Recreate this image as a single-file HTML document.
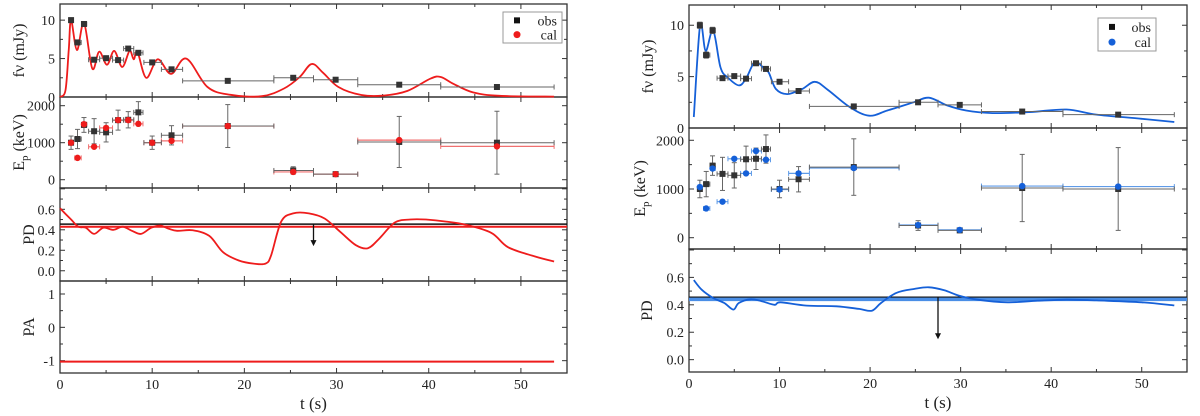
<!DOCTYPE html>
<html><head><meta charset="utf-8"><style>
html,body{margin:0;padding:0;background:#fff;width:1200px;height:416px;overflow:hidden}
svg{display:block}
text{font-family:"Liberation Serif","Noto Serif CJK SC",serif;fill:#222}
</style></head><body>
<svg id="chart" width="1200" height="416" viewBox="0 0 1200 416" xmlns="http://www.w3.org/2000/svg"></svg>
<script>
// ---- data ----
const obsT = [1.2,1.9,2.6,3.7,5.0,6.3,7.4,8.5,10.0,12.1,18.2,25.3,29.9,36.8,47.4];
const obsTlo = [1.0,1.6,2.4,3.1,4.3,5.7,6.9,8.0,9.1,11.0,13.3,23.2,27.5,32.3,41.3];
const obsThi = [1.4,2.3,2.9,4.3,5.7,6.9,8.0,9.0,11.0,13.3,23.2,27.5,32.3,41.3,53.6];
const obsFlux = [10.0,7.1,9.5,4.85,5.05,4.8,6.3,5.75,4.5,3.6,2.1,2.5,2.25,1.6,1.3];
const obsFluxErr = [0.3,0.3,0.3,0.2,0.2,0.2,0.2,0.2,0.2,0.2,0.15,0.15,0.15,0.15,0.15];
const obsEp = [1000,1100,1480,1310,1280,1610,1620,1820,1000,1200,1450,250,150,1020,1000];
const obsEpErr = [180,260,200,340,260,270,220,290,180,260,580,100,40,690,850];
const calEpLeft = [1000,590,1500,890,1400,1610,1610,1510,1000,1050,1450,210,150,1070,900];
const calEpRight = [1040,600,1420,740,1620,1320,1780,1600,990,1320,1430,260,160,1060,1050];
const fluxLeftT = [0,0.6,0.95,1.2,1.84,2.6,3.5,4.25,5.1,5.88,6.75,7.55,8.0,8.4,9.35,10.6,12.05,13.7,16.0,18.5,21.9,24.3,26.0,27.3,28.5,30.2,32.7,35.2,37.7,40.2,41.3,42.7,44.8,47.7,53.6];
const fluxLeftV = [0,0.9,6.2,10,6.1,9.65,3.7,5.9,4.2,6.0,3.9,6.0,4.9,5.9,2.5,4.9,3.0,5.0,1.3,0.28,0.1,1.1,2.6,4.3,3.2,1.3,0.26,0.2,0.8,2.4,2.6,1.7,0.6,0.15,0.05];
const fluxRightT = [0.53,1.23,1.84,2.66,3.48,4.3,5.53,6.35,7.25,8.2,8.8,9.6,10.85,12.5,13.9,15.35,17.8,19.9,21.9,24.8,26.5,28.5,30.6,33.5,37.6,41.7,45,50,53.6];
const fluxRightV = [1.07,10.0,7.5,9.5,5.9,4.9,4.15,4.9,6.4,5.9,5.4,3.8,3.3,3.8,4.5,3.7,2.0,1.2,1.7,2.5,2.95,2.2,1.7,1.45,1.55,1.8,1.3,0.9,0.58];
const pdLeftT = [0,1.2,2.0,2.8,3.7,4.7,5.8,6.8,7.8,8.8,9.9,10.9,11.8,12.7,14.4,16.2,17.7,19.4,21.0,22.3,22.9,24.0,25.3,27,28.7,30.4,32.1,33.4,34.6,36.3,38,39.7,41.9,44,46.8,48.6,51.5,53.6];
const pdLeftV = [0.61,0.5,0.43,0.42,0.36,0.42,0.4,0.43,0.39,0.36,0.42,0.44,0.41,0.39,0.395,0.34,0.18,0.1,0.07,0.07,0.15,0.48,0.56,0.56,0.51,0.38,0.25,0.22,0.31,0.47,0.5,0.5,0.48,0.45,0.37,0.23,0.14,0.09];
const pdRightT = [0.53,1.4,2.66,3.9,4.9,5.5,6.8,8,9.45,10.1,13,16.3,18.8,20.2,21.2,22.9,24.9,26.5,28.2,29.8,31.9,35.2,38.5,41.7,45,50,53.6];
const pdRightV = [0.58,0.51,0.45,0.413,0.365,0.413,0.44,0.427,0.40,0.418,0.394,0.389,0.37,0.357,0.413,0.487,0.516,0.528,0.506,0.467,0.437,0.418,0.43,0.437,0.432,0.418,0.396];
const pdObsLimit = [0.455];
const pdLimitT = [27.5];
const pdCalConstLeft = [0.43];
const pdCalConstRight = [0.44];
const paLeftT = [0,53.6];
const paLeftV = [-1.03,-1.03];
const xTicks = [0,10,20,30,40,50];
const fluxTicks = [0,5,10];
const epTicks = [0,1000,2000];
const pdTicks = [0.0,0.2,0.4,0.6];
const paTicks = [-1,0,1];

// ---- helpers ----
const svg = document.getElementById('chart');
const NS = 'http://www.w3.org/2000/svg';
function el(tag, attrs, parent){const e=document.createElementNS(NS,tag);for(const k in attrs)e.setAttribute(k,attrs[k]);(parent||svg).appendChild(e);return e;}
function linScale(d0,d1,r0,r1){return v=>r0+(v-d0)*(r1-r0)/(d1-d0);}
function smoothPath(xs,ys){
  let d='M'+xs[0].toFixed(1)+','+ys[0].toFixed(1);
  for(let i=0;i<xs.length-1;i++){
    const x0=xs[Math.max(i-1,0)],y0=ys[Math.max(i-1,0)],x1=xs[i],y1=ys[i],x2=xs[i+1],y2=ys[i+1],x3=xs[Math.min(i+2,xs.length-1)],y3=ys[Math.min(i+2,xs.length-1)];
    const c1x=x1+(x2-x0)/6,c1y=y1+(y2-y0)/6,c2x=x2-(x3-x1)/6,c2y=y2-(y3-y1)/6;
    d+=' C'+c1x.toFixed(1)+','+c1y.toFixed(1)+' '+c2x.toFixed(1)+','+c2y.toFixed(1)+' '+x2.toFixed(1)+','+y2.toFixed(1);
  }
  return d;
}

function makeFigure(cfg){
  const g = el('g',{});
  
  
  const X = linScale(0,55,cfg.x0,cfg.x1);
  cfg.panels.forEach((p,pi)=>{
    const Y = linScale(p.ymin,p.ymax,p.bottom,p.top);
    p.Y = Y;
    const pg = el('g',{},g);
    
    
    const frame = el('rect',{x:cfg.x0,y:p.top,width:cfg.x1-cfg.x0,height:p.bottom-p.top,fill:'none',stroke:'#333','stroke-width':1.3},pg);
    
    
    // x ticks
    for(let t=0;t<=55;t+=5){
      const major = t%10===0, len = major?5:3;
      el('line',{x1:X(t),x2:X(t),y1:p.bottom,y2:p.bottom-len,stroke:'#333','stroke-width':1},pg);
      el('line',{x1:X(t),x2:X(t),y1:p.top,y2:p.top+len,stroke:'#333','stroke-width':1},pg);
    }
    // y ticks
    const tk=p.ticks, step=(tk[1]-tk[0])/2;
    for(let v=tk[0]-step*4; v<=p.ymax+1e-9; v+=step){
      if(v<p.ymin-1e-9)continue;
      const k=Math.round((v-tk[0])/step); const major=k%2===0; const len=major?5:3;
      const y=Y(v);
      el('line',{x1:cfg.x0,x2:cfg.x0+len,y1:y,y2:y,stroke:'#333','stroke-width':1},pg);
      el('line',{x1:cfg.x1,x2:cfg.x1-len,y1:y,y2:y,stroke:'#333','stroke-width':1},pg);
    }
    tk.forEach(v=>{
      const tx=el('text',{x:cfg.x0-5,y:Y(v)+5,'text-anchor':'end','font-size':14},pg);
      tx.textContent = p.fmt? p.fmt(v) : String(v);
      
      
    });
    const lbl = el('text',{x:0,y:0,'text-anchor':'middle','font-size':16,transform:'translate('+p.labelX+','+((p.top+p.bottom)/2)+') rotate(-90)'},pg);
    lbl.innerHTML = p.label;
    
    
  });
  xTicks.forEach(t=>{
    const tx=el('text',{x:X(t),y:cfg.panels[cfg.panels.length-1].bottom+16,'text-anchor':'middle','font-size':14},g);
    tx.textContent=String(t);
    
    
  });
  const xt=el('text',{x:X(27.5),y:cfg.panels[cfg.panels.length-1].bottom+36,'text-anchor':'middle','font-size':17},g);
  xt.textContent='t (s)';
  
  

  const [pf,pe,pp] = cfg.panels;
  const col = cfg.color;
  // flux model curve
  const fc = el('path',{d:smoothPath(cfg.fluxT.map(X),cfg.fluxV.map(pf.Y)),fill:'none',stroke:col,'stroke-width':1.8},g);
  
  
  // Ep cal points
  obsT.forEach((t,i)=>{
    const y=pe.Y(cfg.calEp[i]);
    const b=el('line',{x1:X(obsTlo[i]),x2:X(obsThi[i]),y1:y,y2:y,stroke:cfg.lightColor,'stroke-width':1.2},g);
    
    
    [obsTlo[i],obsThi[i]].forEach(tt=>el('line',{x1:X(tt),x2:X(tt),y1:y-2.5,y2:y+2.5,stroke:cfg.lightColor,'stroke-width':1},g));
  });
  // obs points: flux and Ep
  obsT.forEach((t,i)=>{
    [[pf,obsFlux[i],obsFluxErr[i],'flux'],[pe,obsEp[i],obsEpErr[i],'ep']].forEach(([p,v,e,nm])=>{
      const y=p.Y(v), x=X(t);
      el('line',{x1:X(obsTlo[i]),x2:X(obsThi[i]),y1:y,y2:y,stroke:'#666','stroke-width':1},g);
      [obsTlo[i],obsThi[i]].forEach(tt=>el('line',{x1:X(tt),x2:X(tt),y1:y-2.5,y2:y+2.5,stroke:'#666','stroke-width':1},g));
      el('line',{x1:x,x2:x,y1:p.Y(v-e),y2:p.Y(v+e),stroke:'#666','stroke-width':1},g);
      [v-e,v+e].forEach(vv=>el('line',{x1:x-2.5,x2:x+2.5,y1:p.Y(vv),y2:p.Y(vv),stroke:'#666','stroke-width':1},g));
      const m=el('rect',{x:x-3,y:y-3,width:6,height:6,fill:'#333'},g);
      
      
    });
  });
  obsT.forEach((t,i)=>{
    const c=el('circle',{cx:X(t),cy:pe.Y(cfg.calEp[i]),r:3.2,fill:col},g);
    
    
  });
  // PD lines
  const hl=el('line',{x1:cfg.x0,x2:cfg.x1,y1:pp.Y(pdObsLimit[0]),y2:pp.Y(pdObsLimit[0]),stroke:'#111','stroke-width':1.5},g);
  
  
  const cl=el('line',{x1:cfg.x0,x2:cfg.x1,y1:pp.Y(cfg.pdConst[0]),y2:pp.Y(cfg.pdConst[0]),stroke:cfg.constColor,'stroke-width':cfg.constWidth},g);
  
  
  const pc=el('path',{d:smoothPath(cfg.pdT.map(X),cfg.pdV.map(pp.Y)),fill:'none',stroke:col,'stroke-width':1.8},g);
  
  
  const ax=X(pdLimitT[0]), ay0=pp.Y(pdObsLimit[0]), ay1=ay0+cfg.arrowLen;
  const ar=el('line',{x1:ax,x2:ax,y1:ay0,y2:ay1-4,stroke:'#111','stroke-width':1.3},g);
  
  
  el('polygon',{points:(ax-3)+','+(ay1-6)+' '+(ax+3)+','+(ay1-6)+' '+ax+','+ay1,fill:'#111'},g);
  if(cfg.panels[3]){
    const pa=cfg.panels[3];
    const pl=el('polyline',{points:paLeftT.map((t,i)=>X(t)+','+pa.Y(paLeftV[i])).join(' '),fill:'none',stroke:col,'stroke-width':2},g);
    
    
  }
  // legend
  const L=cfg.legend;
  const lg=el('g',{},g);
  
  
  el('rect',{x:L.x,y:L.y,width:L.w,height:L.h,fill:'#fff',stroke:'#999','stroke-width':1},lg);
  el('rect',{x:L.x+11,y:L.y+L.h*0.27-3,width:6,height:6,fill:'#111'},lg);
  const t1=el('text',{x:L.x+L.w-5,y:L.y+L.h*0.27+5,'text-anchor':'end','font-size':14},lg);t1.textContent='obs';
  
  
  el('circle',{cx:L.x+14,cy:L.y+L.h*0.73,r:3.5,fill:col},lg);
  const t2=el('text',{x:L.x+L.w-5,y:L.y+L.h*0.73+5,'text-anchor':'end','font-size':14},lg);t2.textContent='cal';
  
  
}

const fmt1 = v=>v.toFixed(1);
makeFigure({
  name:'left-figure', x0:60, x1:567, color:'#ee1c1c', lightColor:'#f07070', constColor:'#ee1c1c', constWidth:2,
  fluxT:fluxLeftT, fluxV:fluxLeftV, calEp:calEpLeft, pdT:pdLeftT, pdV:pdLeftV, pdConst:pdCalConstLeft, arrowLen:22,
  legend:{x:503,y:12,w:59,h:31},
  panels:[
    {name:'flux',top:4,bottom:97,ymin:0,ymax:12.1,ticks:fluxTicks,labelX:24,label:'fν (mJy)'},
    {name:'ep',top:97,bottom:188,ymin:-224,ymax:2235,ticks:epTicks,labelX:24,label:'E<tspan font-size="11" dy="4">p</tspan><tspan dy="-4"> (keV)</tspan>'},
    {name:'pd',top:188,bottom:281,ymin:-0.1,ymax:0.808,ticks:pdTicks,labelX:34,label:'PD',fmt:fmt1},
    {name:'pa',top:281,bottom:373,ymin:-1.37,ymax:1.39,ticks:paTicks,labelX:34,label:'PA'}
  ]
});
makeFigure({
  name:'right-figure', x0:689, x1:1187, color:'#1560d8', lightColor:'#5f9be8', constColor:'#4a8ee6', constWidth:3.5,
  fluxT:fluxRightT, fluxV:fluxRightV, calEp:calEpRight, pdT:pdRightT, pdV:pdRightV, pdConst:pdCalConstRight, arrowLen:42,
  legend:{x:1098,y:18,w:58,h:33},
  panels:[
    {name:'flux',top:5,bottom:128,ymin:0,ymax:11.97,ticks:fluxTicks,labelX:653,label:'fν (mJy)'},
    {name:'ep',top:128,bottom:249,ymin:-232,ymax:2252,ticks:epTicks,labelX:645,label:'E<tspan font-size="11" dy="4">p</tspan><tspan dy="-4"> (keV)</tspan>'},
    {name:'pd',top:249,bottom:372,ymin:-0.09,ymax:0.807,ticks:pdTicks,labelX:652,label:'PD',fmt:fmt1}
  ]
});
</script>
</body></html>
